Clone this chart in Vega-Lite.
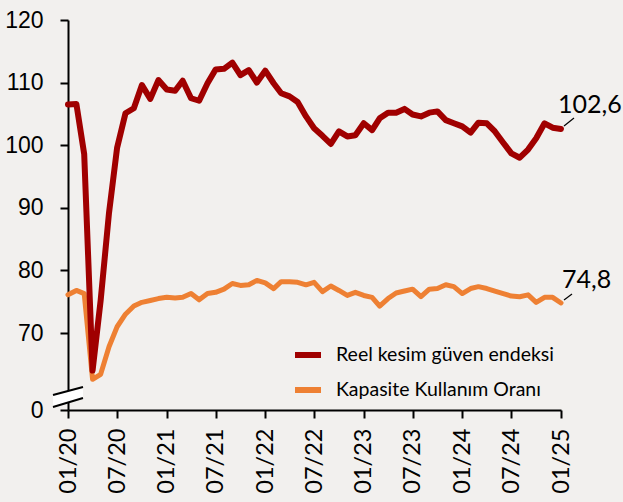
{
  "$schema": "https://vega.github.io/schema/vega-lite/v6.json",
  "width": 493,
  "height": 390,
  "autosize": {"type": "none"},
  "padding": {"left": 68, "top": 20, "right": 62, "bottom": 92},
  "background": "#f2f0ee",
  "config": {
    "view": {"stroke": null},
    "locale": {"number": {"decimal": ",", "thousands": ".", "grouping": [3], "currency": ["", " TL"]}}
  },
  "data": {"values": [
    {"date": "2020-01-01", "rkge": 106.5, "kko": 76.1},
    {"date": "2020-02-01", "rkge": 106.6, "kko": 76.8},
    {"date": "2020-03-01", "rkge": 98.6, "kko": 76.3},
    {"date": "2020-04-01", "rkge": 64.0, "kko": 62.6},
    {"date": "2020-05-01", "rkge": 75.2, "kko": 63.4},
    {"date": "2020-06-01", "rkge": 89.2, "kko": 67.8},
    {"date": "2020-07-01", "rkge": 99.6, "kko": 71.0},
    {"date": "2020-08-01", "rkge": 105.1, "kko": 73.0},
    {"date": "2020-09-01", "rkge": 105.9, "kko": 74.3},
    {"date": "2020-10-01", "rkge": 109.6, "kko": 74.9},
    {"date": "2020-11-01", "rkge": 107.4, "kko": 75.2},
    {"date": "2020-12-01", "rkge": 110.4, "kko": 75.5},
    {"date": "2021-01-01", "rkge": 108.9, "kko": 75.7},
    {"date": "2021-02-01", "rkge": 108.7, "kko": 75.6},
    {"date": "2021-03-01", "rkge": 110.3, "kko": 75.7},
    {"date": "2021-04-01", "rkge": 107.5, "kko": 76.3},
    {"date": "2021-05-01", "rkge": 107.1, "kko": 75.3},
    {"date": "2021-06-01", "rkge": 109.9, "kko": 76.3},
    {"date": "2021-07-01", "rkge": 112.1, "kko": 76.5},
    {"date": "2021-08-01", "rkge": 112.2, "kko": 77.0},
    {"date": "2021-09-01", "rkge": 113.2, "kko": 77.9},
    {"date": "2021-10-01", "rkge": 111.2, "kko": 77.6},
    {"date": "2021-11-01", "rkge": 112.0, "kko": 77.7},
    {"date": "2021-12-01", "rkge": 110.0, "kko": 78.4},
    {"date": "2022-01-01", "rkge": 111.9, "kko": 78.0},
    {"date": "2022-02-01", "rkge": 109.9, "kko": 77.1},
    {"date": "2022-03-01", "rkge": 108.3, "kko": 78.2},
    {"date": "2022-04-01", "rkge": 107.8, "kko": 78.2},
    {"date": "2022-05-01", "rkge": 106.9, "kko": 78.1},
    {"date": "2022-06-01", "rkge": 104.6, "kko": 77.7},
    {"date": "2022-07-01", "rkge": 102.7, "kko": 78.1},
    {"date": "2022-08-01", "rkge": 101.5, "kko": 76.6},
    {"date": "2022-09-01", "rkge": 100.2, "kko": 77.5},
    {"date": "2022-10-01", "rkge": 102.2, "kko": 76.8},
    {"date": "2022-11-01", "rkge": 101.4, "kko": 76.0},
    {"date": "2022-12-01", "rkge": 101.6, "kko": 76.5},
    {"date": "2023-01-01", "rkge": 103.5, "kko": 76.0},
    {"date": "2023-02-01", "rkge": 102.4, "kko": 75.7},
    {"date": "2023-03-01", "rkge": 104.3, "kko": 74.3},
    {"date": "2023-04-01", "rkge": 105.2, "kko": 75.5},
    {"date": "2023-05-01", "rkge": 105.2, "kko": 76.4},
    {"date": "2023-06-01", "rkge": 105.8, "kko": 76.7},
    {"date": "2023-07-01", "rkge": 104.9, "kko": 77.0},
    {"date": "2023-08-01", "rkge": 104.6, "kko": 75.8},
    {"date": "2023-09-01", "rkge": 105.2, "kko": 77.0},
    {"date": "2023-10-01", "rkge": 105.4, "kko": 77.1},
    {"date": "2023-11-01", "rkge": 104.0, "kko": 77.7},
    {"date": "2023-12-01", "rkge": 103.5, "kko": 77.4},
    {"date": "2024-01-01", "rkge": 103.0, "kko": 76.3},
    {"date": "2024-02-01", "rkge": 102.0, "kko": 77.1},
    {"date": "2024-03-01", "rkge": 103.6, "kko": 77.4},
    {"date": "2024-04-01", "rkge": 103.5, "kko": 77.1},
    {"date": "2024-05-01", "rkge": 102.2, "kko": 76.7},
    {"date": "2024-06-01", "rkge": 100.4, "kko": 76.3},
    {"date": "2024-07-01", "rkge": 98.7, "kko": 75.9},
    {"date": "2024-08-01", "rkge": 98.0, "kko": 75.8},
    {"date": "2024-09-01", "rkge": 99.3, "kko": 76.1},
    {"date": "2024-10-01", "rkge": 101.1, "kko": 74.9},
    {"date": "2024-11-01", "rkge": 103.5, "kko": 75.7},
    {"date": "2024-12-01", "rkge": 102.8, "kko": 75.7},
    {"date": "2025-01-01", "rkge": 102.6, "kko": 74.8}
  ]},
  "encoding": {
    "x": {
      "field": "date",
      "type": "temporal",
      "scale": {
        "type": "utc",
        "domain": [
          {"year": 2020, "month": 1, "date": 1, "utc": true},
          {"year": 2025, "month": 1, "date": 1, "utc": true}
        ]
      },
      "axis": {
        "title": null,
        "grid": false,
        "format": "%m/%y",
        "values": [
          {"year": 2020, "month": 1, "date": 1, "utc": true},
          {"year": 2020, "month": 7, "date": 1, "utc": true},
          {"year": 2021, "month": 1, "date": 1, "utc": true},
          {"year": 2021, "month": 7, "date": 1, "utc": true},
          {"year": 2022, "month": 1, "date": 1, "utc": true},
          {"year": 2022, "month": 7, "date": 1, "utc": true},
          {"year": 2023, "month": 1, "date": 1, "utc": true},
          {"year": 2023, "month": 7, "date": 1, "utc": true},
          {"year": 2024, "month": 1, "date": 1, "utc": true},
          {"year": 2024, "month": 7, "date": 1, "utc": true},
          {"year": 2025, "month": 1, "date": 1, "utc": true}
        ],
        "labelAngle": -90,
        "labelFont": "Lato",
        "labelFontSize": 23.5,
        "labelColor": "black",
        "labelPadding": 10,
        "labelFlush": false,
        "labelOverlap": false,
        "domainColor": "black",
        "domainWidth": 2,
        "tickColor": "black",
        "tickWidth": 2,
        "tickSize": 8
      }
    }
  },
  "layer": [
    {
      "mark": {"type": "line", "strokeWidth": 5, "strokeJoin": "round", "strokeCap": "round"},
      "encoding": {
        "y": {
          "field": "kko",
          "type": "quantitative",
          "scale": {"domain": [57.7, 120], "nice": false, "zero": false},
          "axis": {
            "title": null,
            "grid": false,
            "values": [57.7, 70, 80, 90, 100, 110, 120],
            "format": ".0f",
            "labelExpr": "datum.value < 60 ? '0' : datum.label",
            "labelFont": "Liberation Sans",
            "labelFontSize": 23,
            "labelColor": "black",
            "labelPadding": 17,
            "domainColor": "black",
            "domainWidth": 2,
            "tickColor": "black",
            "tickWidth": 2,
            "tickSize": 8
          }
        },
        "color": {
          "datum": "Kapasite Kullanım Oranı",
          "type": "nominal",
          "scale": {
            "domain": ["Reel kesim güven endeksi", "Kapasite Kullanım Oranı"],
            "range": ["#a00000", "#ee8033"]
          },
          "legend": {
            "title": null,
            "orient": "none",
            "legendX": 224,
            "legendY": 319,
            "symbolType": "stroke",
            "symbolStrokeWidth": 6,
            "symbolSize": 676,
            "labelFont": "Lato",
            "labelFontSize": 19.5,
            "labelLimit": 400,
            "labelColor": "black",
            "labelOffset": 12,
            "rowPadding": 7
          }
        }
      }
    },
    {
      "mark": {"type": "line", "strokeWidth": 6, "strokeJoin": "round", "strokeCap": "round"},
      "encoding": {
        "y": {"field": "rkge", "type": "quantitative"},
        "color": {"datum": "Reel kesim güven endeksi", "type": "nominal"}
      }
    },
    {
      "transform": [{"filter": "utcyear(datum.date) === 2025"}],
      "mark": {"type": "rule", "color": "black", "strokeWidth": 1.2, "xOffset": 3, "yOffset": -3, "x2Offset": 13, "y2Offset": -11},
      "encoding": {
        "y": {"field": "rkge", "type": "quantitative"},
        "x2": {"field": "date"},
        "y2": {"field": "rkge"}
      }
    },
    {
      "transform": [{"filter": "utcyear(datum.date) === 2025"}],
      "mark": {"type": "rule", "color": "black", "strokeWidth": 1.2, "xOffset": 3, "yOffset": -3, "x2Offset": 11, "y2Offset": -9},
      "encoding": {
        "y": {"field": "kko", "type": "quantitative"},
        "x2": {"field": "date"},
        "y2": {"field": "kko"}
      }
    },
    {
      "transform": [{"filter": "utcyear(datum.date) === 2025"}],
      "mark": {"type": "text", "align": "left", "baseline": "alphabetic", "dx": -3, "dy": -16, "font": "Lato", "fontSize": 25, "color": "black"},
      "encoding": {
        "y": {"field": "rkge", "type": "quantitative"},
        "text": {"field": "rkge", "type": "quantitative", "format": ".1f"}
      }
    },
    {
      "transform": [{"filter": "utcyear(datum.date) === 2025"}],
      "mark": {"type": "text", "align": "left", "baseline": "alphabetic", "dx": 1, "dy": -15, "font": "Lato", "fontSize": 25, "color": "black"},
      "encoding": {
        "y": {"field": "kko", "type": "quantitative"},
        "text": {"field": "kko", "type": "quantitative", "format": ".1f"}
      }
    },
    {
      "data": {"values": [{"date": "2020-01-01", "value": 59.78}]},
      "mark": {"type": "point", "shape": "M -1 -0.13 L 1 -0.67 L 1 0.07 L -1 0.67 Z", "size": 900, "filled": true, "fill": "white", "opacity": 1, "strokeWidth": 0},
      "encoding": {
        "y": {"field": "value", "type": "quantitative"}
      }
    },
    {
      "data": {"values": [{"date": "2020-01-01", "value": 59.78}]},
      "mark": {"type": "point", "shape": "M -1 -0.13 L 1 -0.67 M -1 0.67 L 1 0.07", "size": 900, "filled": false, "stroke": "black", "opacity": 1, "strokeWidth": 2},
      "encoding": {
        "y": {"field": "value", "type": "quantitative"}
      }
    }
  ]
}
